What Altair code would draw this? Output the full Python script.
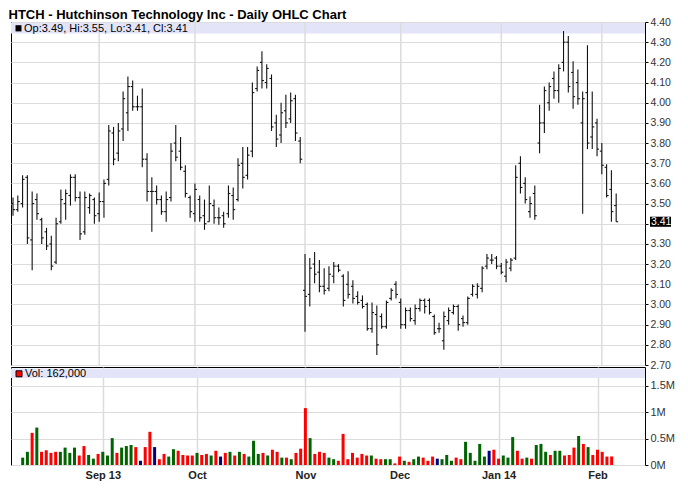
import altair as alt
import pandas as pd

TITLE = "HTCH - Hutchinson Technology Inc - Daily OHLC Chart"
month_idx = [18, 38, 61, 81, 102, 123]
month_lbl = ["Sep 13", "Oct", "Nov", "Dec", "Jan 14", "Feb"]
price_ticks = [2.70, 2.80, 2.90, 3.00, 3.10, 3.20, 3.30, 3.40, 3.50, 3.60,
               3.70, 3.80, 3.90, 4.00, 4.10, 4.20, 4.30, 4.40]
vol_ticks = [0, 0.5, 1, 1.5]

highs = [
    3.53, 3.54, 3.64, 3.64, 3.56, 3.55, 3.43, 3.38, 3.34, 3.43,
    3.57, 3.57, 3.645, 3.645, 3.56, 3.56, 3.55, 3.53, 3.555, 3.62,
    3.89, 3.88, 3.90, 4.055, 4.13, 4.11, 4.035, 4.07, 3.75, 3.63,
    3.59, 3.54, 3.56, 3.80, 3.89, 3.83, 3.69, 3.54, 3.60, 3.54,
    3.52, 3.59, 3.52, 3.48, 3.46, 3.59, 3.58, 3.725, 3.78, 3.78,
    4.10, 4.18, 4.255, 4.19, 4.14, 3.94, 4.00, 4.04, 4.05, 4.04,
    3.83, 3.25, 3.23, 3.26, 3.22, 3.18, 3.19, 3.21, 3.20, 3.15,
    3.165, 3.12, 3.065, 3.045, 3.01, 3.01, 2.995, 2.955, 3.02, 3.08,
    3.115, 3.03, 2.985, 2.985, 3.00, 3.03, 3.03, 3.03, 2.95, 2.91,
    2.965, 2.985, 3.00, 3.00, 2.945, 3.04, 3.10, 3.105, 3.19, 3.25,
    3.25, 3.24, 3.205, 3.225, 3.23, 3.69, 3.735, 3.63, 3.535, 3.59,
    3.99, 4.08, 4.10, 4.155, 4.19, 4.355, 4.33, 4.205, 4.165, 4.055,
    4.285, 4.055, 3.92, 3.80, 3.695, 3.665, 3.55,
]
lows = [
    3.44, 3.46, 3.48, 3.30, 3.17, 3.42, 3.30, 3.27, 3.17, 3.20,
    3.40, 3.42, 3.49, 3.51, 3.32, 3.345, 3.45, 3.40, 3.41, 3.43,
    3.59, 3.69, 3.71, 3.81, 3.86, 3.96, 3.96, 3.68, 3.51, 3.36,
    3.495, 3.445, 3.41, 3.51, 3.71, 3.665, 3.53, 3.43, 3.41, 3.41,
    3.37, 3.41, 3.40, 3.395, 3.38, 3.43, 3.42, 3.51, 3.575, 3.62,
    3.73, 4.055, 4.07, 4.07, 3.86, 3.78, 3.80, 3.875, 3.90, 3.81,
    3.70, 2.865, 2.99, 3.105, 3.06, 3.05, 3.065, 3.105, 3.16, 2.99,
    3.03, 3.005, 3.00, 2.98, 2.87, 2.86, 2.75, 2.88, 2.88, 3.02,
    3.03, 2.88, 2.88, 2.915, 2.90, 2.965, 2.955, 2.95, 2.85, 2.86,
    2.775, 2.90, 2.95, 2.87, 2.89, 2.90, 3.04, 3.03, 3.06, 3.175,
    3.20, 3.175, 3.15, 3.11, 3.165, 3.22, 3.55, 3.50, 3.43, 3.42,
    3.75, 3.85, 3.96, 4.02, 4.00, 4.155, 4.05, 3.97, 3.99, 3.45,
    3.77, 3.77, 3.735, 3.645, 3.53, 3.41, 3.41,
]
opens = [
    3.50, 3.47, 3.50, 3.63, 3.32, 3.52, 3.42, 3.36, 3.30, 3.21,
    3.41, 3.50, 3.54, 3.63, 3.53, 3.36, 3.48, 3.52, 3.45, 3.51,
    3.62, 3.85, 3.75, 3.87, 3.95, 4.08, 3.98, 3.98, 3.72, 3.56,
    3.56, 3.52, 3.46, 3.53, 3.80, 3.76, 3.66, 3.53, 3.45, 3.52,
    3.44, 3.41, 3.49, 3.43, 3.44, 3.45, 3.54, 3.52, 3.70, 3.64,
    3.76, 4.07, 4.20, 4.10, 4.12, 3.90, 3.84, 3.96, 3.92, 4.02,
    3.81, 3.07, 3.05, 3.20, 3.16, 3.09, 3.08, 3.14, 3.19, 3.14,
    3.10, 3.09, 3.04, 3.02, 3.00, 2.88, 2.95, 2.94, 2.89, 3.03,
    3.10, 3.01, 2.90, 2.97, 2.92, 2.98, 3.02, 3.02, 2.94, 2.88,
    2.82, 2.92, 2.96, 2.99, 2.93, 2.91, 3.05, 3.05, 3.08, 3.19,
    3.22, 3.23, 3.19, 3.14, 3.18, 3.23, 3.70, 3.60, 3.46, 3.55,
    3.80, 3.90, 4.00, 4.12, 4.06, 4.20, 4.30, 4.15, 4.10, 3.90,
    4.05, 3.83, 3.90, 3.76, 3.68, 3.57, 3.49,
]
closes = [
    3.47, 3.51, 3.62, 3.33, 3.50, 3.45, 3.33, 3.29, 3.19, 3.40,
    3.52, 3.55, 3.63, 3.53, 3.35, 3.53, 3.54, 3.44, 3.51, 3.60,
    3.86, 3.72, 3.86, 4.02, 4.08, 3.98, 3.98, 3.72, 3.56, 3.56,
    3.52, 3.46, 3.52, 3.76, 3.73, 3.68, 3.55, 3.46, 3.57, 3.43,
    3.40, 3.50, 3.43, 3.43, 3.40, 3.55, 3.47, 3.69, 3.63, 3.74,
    4.05, 4.16, 4.11, 4.17, 3.88, 3.82, 3.95, 3.90, 4.01, 3.85,
    3.72, 3.04, 3.18, 3.15, 3.09, 3.07, 3.15, 3.19, 3.17, 3.02,
    3.05, 3.03, 3.01, 2.99, 2.88, 2.96, 2.80, 2.89, 3.01, 3.07,
    3.05, 2.90, 2.97, 2.93, 2.98, 3.02, 2.99, 2.96, 2.86, 2.88,
    2.94, 2.97, 2.99, 2.90, 2.91, 3.03, 3.09, 3.09, 3.18, 3.23,
    3.22, 3.19, 3.16, 3.21, 3.22, 3.63, 3.58, 3.52, 3.50, 3.44,
    3.90, 4.06, 4.08, 4.06, 4.17, 4.30, 4.08, 4.03, 4.02, 4.02,
    3.80, 3.88, 3.77, 3.69, 3.54, 3.46, 3.41,
]
# volume in millions of shares
vols = [
    0.0, 0.14, 0.25, 0.61, 0.71, 0.25, 0.28, 0.23, 0.25, 0.25,
    0.33, 0.23, 0.33, 0.18, 0.36, 0.19, 0.12, 0.21, 0.25, 0.18,
    0.51, 0.23, 0.33, 0.36, 0.38, 0.34, 0.08, 0.34, 0.63, 0.34,
    0.11, 0.21, 0.16, 0.30, 0.27, 0.19, 0.18, 0.18, 0.23, 0.19,
    0.21, 0.18, 0.27, 0.16, 0.23, 0.25, 0.18, 0.25, 0.21, 0.16,
    0.46, 0.21, 0.23, 0.18, 0.29, 0.25, 0.14, 0.14, 0.11, 0.23,
    0.31, 1.08, 0.51, 0.21, 0.25, 0.23, 0.14, 0.11, 0.08, 0.59,
    0.11, 0.23, 0.14, 0.21, 0.18, 0.18, 0.12, 0.11, 0.11, 0.11,
    0.03, 0.16, 0.08, 0.06, 0.11, 0.16, 0.14, 0.08, 0.16, 0.12,
    0.11, 0.19, 0.08, 0.14, 0.11, 0.44, 0.23, 0.08, 0.40, 0.16,
    0.27, 0.29, 0.12, 0.18, 0.14, 0.53, 0.27, 0.12, 0.14, 0.12,
    0.38, 0.40, 0.25, 0.19, 0.27, 0.27, 0.18, 0.19, 0.33, 0.55,
    0.40, 0.34, 0.19, 0.29, 0.25, 0.16, 0.162,
]
vdir = [
    "down", "up", "up", "down", "up", "down", "down", "down", "down", "up",
    "up", "up", "up", "down", "down", "up", "up", "down", "up", "up",
    "up", "down", "up", "up", "up", "down", "flat", "down", "down", "flat",
    "down", "down", "up", "up", "down", "down", "down", "down", "up", "down",
    "down", "up", "down", "flat", "down", "up", "down", "up", "down", "up",
    "up", "up", "down", "up", "down", "down", "up", "down", "up", "down",
    "down", "down", "up", "down", "down", "down", "up", "up", "down", "down",
    "down", "down", "down", "down", "down", "up", "down", "down", "up", "up",
    "down", "down", "up", "down", "up", "up", "down", "down", "down", "flat",
    "up", "up", "up", "down", "down", "up", "up", "up", "up", "up",
    "flat", "down", "down", "up", "up", "up", "down", "down", "up", "down",
    "up", "up", "up", "down", "up", "up", "down", "down", "down", "up",
    "down", "up", "down", "down", "down", "down", "down",
]

n = len(highs)
df = pd.DataFrame({"i": list(range(n)), "o": opens, "h": highs, "l": lows,
                   "c": closes, "v": vols, "d": vdir})
months = pd.DataFrame({"m": month_idx, "lab": month_lbl})
one = pd.DataFrame({"t": [TITLE]})
last = df.tail(1)

ohlc_txt = f"Op:{opens[-1]:.2f}, Hi:{highs[-1]:.2f}, Lo:{lows[-1]:.2f}, Cl:{closes[-1]:.2f}"
vol_txt = f"Vol: {round(vols[-1] * 1e6):,}"

W, HP, HV = 634, 343, 98
FONT = "Liberation Sans, Arial, sans-serif"
GRID = "#dcdcdc"
LAV = "#e4e4f8"

xscale = alt.Scale(domain=[-0.42, 132.02], nice=False, zero=False)
pscale = alt.Scale(domain=[2.70, 4.40], nice=False, zero=False)
vscale = alt.Scale(domain=[0, 1.86], nice=False, zero=False)

month_expr = "''"
for v, lab in reversed(list(zip(month_idx, month_lbl))):
    month_expr = f"datum.value == {v} ? '{lab}' : ({month_expr})"

yaxis_p = alt.Axis(orient="right", values=price_ticks,
                   labelExpr="abs(datum.value - 3.4) < 0.001 ? '' : format(datum.value, '.2f')",
                   grid=True, gridColor=GRID, gridWidth=1, tickSize=3, tickColor="#000",
                   domain=False, labelFont=FONT, labelFontSize=10.5, labelColor="#333",
                   labelPadding=2, title=None)
xaxis_v = alt.Axis(values=month_idx, labelExpr=month_expr, grid=True, gridColor=GRID,
                   gridWidth=1.5, ticks=False, domain=False, labelFont=FONT,
                   labelFontSize=11, labelFontWeight="bold", labelColor="#222",
                   labelPadding=4, title=None, labelOverlap=False, labelFlush=False)
yaxis_v = alt.Axis(orient="right", values=vol_ticks, labelExpr="datum.value + 'M'",
                   grid=True, gridColor=GRID, gridWidth=1, tickSize=3, tickColor="#000",
                   domain=False, labelFont=FONT, labelFontSize=11, labelColor="#333",
                   labelPadding=2, title=None)

X = lambda f: alt.X(f, scale=xscale, axis=None)
YP = lambda f: alt.Y(f, scale=pscale, axis=yaxis_p)

band_p = alt.Chart(one).mark_rect(color=LAV).encode(
    x=alt.value(0), x2=alt.value(W), y=alt.value(1), y2=alt.value(11.5))
vgrid = alt.Chart(months).mark_rule(color=GRID, strokeWidth=1.5).encode(
    x=X("m:Q"), y=alt.value(0), y2=alt.value(HP))
hl = alt.Chart(df).mark_rule(color="#111", strokeWidth=1.1).encode(
    x=X("i:Q"), y=YP("l:Q"), y2="h:Q")
open_t = alt.Chart(df).transform_calculate(xo="datum.i - 0.42").mark_rule(
    color="#111", strokeWidth=1.1).encode(x=X("xo:Q"), x2="i:Q", y=YP("o:Q"))
close_t = alt.Chart(df).transform_calculate(xc="datum.i + 0.42").mark_rule(
    color="#111", strokeWidth=1.1).encode(x=X("i:Q"), x2="xc:Q", y=YP("c:Q"))
sq_p = alt.Chart(one).mark_rect(color="#000").encode(
    x=alt.value(4.5), x2=alt.value(10.5), y=alt.value(3.2), y2=alt.value(9.4))
txt_p = alt.Chart(one).mark_text(align="left", baseline="middle", font=FONT,
                                 fontSize=11, color="#000").encode(
    x=alt.value(13), y=alt.value(6.5), text=alt.value(ohlc_txt))
box = alt.Chart(last).transform_calculate(
    b0="datum.c - 0.025", b1="datum.c + 0.025").mark_rect(color="#000").encode(
    x=alt.value(W + 5), x2=alt.value(W + 26), y=YP("b0:Q"), y2="b1:Q")
boxtxt = alt.Chart(last).mark_text(align="left", baseline="middle", color="#fff",
                                   font=FONT, fontSize=10.5).encode(
    x=alt.value(W + 6), y=YP("c:Q"), text=alt.Text("c:Q", format=".2f"))
title_t = alt.Chart(one).mark_text(align="left", baseline="alphabetic", font=FONT,
                                   fontSize=13, fontWeight="bold", color="#000").encode(
    x=alt.value(-2.5), y=alt.value(-3), text="t:N")

price = alt.layer(band_p, vgrid, hl, open_t, close_t, sq_p, txt_p, box, boxtxt,
                  title_t).properties(width=W, height=HP)

band_v = alt.Chart(one).mark_rect(color=LAV).encode(
    x=alt.value(0), x2=alt.value(W), y=alt.value(1.5), y2=alt.value(11))
bars = alt.Chart(df).mark_bar(size=3).encode(
    x=alt.X("i:Q", scale=xscale, axis=xaxis_v),
    y=alt.Y("v:Q", scale=vscale, axis=yaxis_v),
    color=alt.Color("d:N", scale=alt.Scale(domain=["up", "down", "flat"],
                                           range=["#006400", "#ff0000", "#000080"]),
                    legend=None))
sq_v = alt.Chart(one).mark_rect(color="#ff0000", stroke="#000", strokeWidth=1).encode(
    x=alt.value(5), x2=alt.value(11), y=alt.value(3.8), y2=alt.value(9.8))
txt_v = alt.Chart(one).mark_text(align="left", baseline="middle", font=FONT,
                                 fontSize=11, color="#000").encode(
    x=alt.value(14), y=alt.value(7), text=alt.value(vol_txt))

volume = alt.layer(band_v, bars, sq_v, txt_v).properties(width=W, height=HV)

chart = alt.vconcat(price, volume, spacing=2, bounds="flush").properties(
    padding=0).configure(background="white").configure_view(stroke="#000", strokeWidth=1)

chart.save("out.html", embed_options={"renderer": "svg", "actions": False})
